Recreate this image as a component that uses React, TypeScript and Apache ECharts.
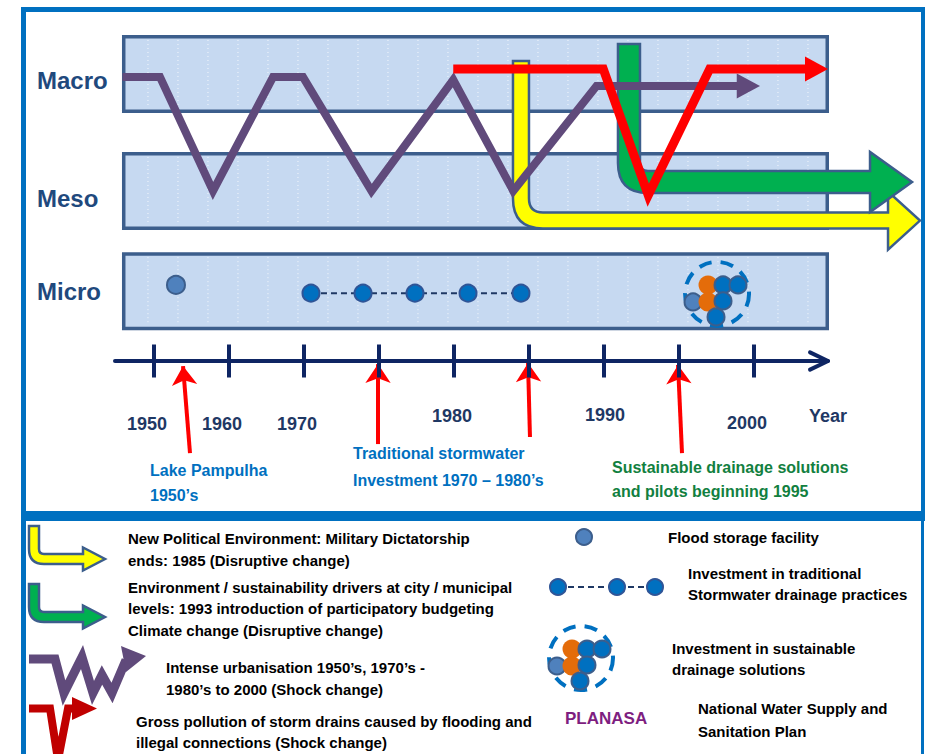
import React, { useEffect, useRef } from "react";
import * as echarts from "echarts";

const FONT = '"Liberation Sans", Arial, Helvetica, sans-serif';

// ---------------- data (timeline position = tick index, level = vertical scale) ----------------
const tickYears = ["1950", "1960", "1970", "1975", "1980", "1985", "1990", "1995", "2000"];
const tickPositions = [0, 1, 2, 3, 4, 5, 6, 7, 8];

const yearLabels = ["1950", "1960", "1970", "1980", "1990", "2000", "Year"];
const yearLabelPos = [
  [-0.093, -16.2], [0.907, -16.2], [1.907, -16.2], [3.973, -14.1], [6.013, -13.8], [7.907, -15.9], [8.987, -14.1],
];

const levelNames = ["Macro", "Meso", "Micro"];
const levelBands = [
  [-0.427, 83.6, 9.0, 63.6],
  [-0.427, 53.6, 9.0, 33.6],
  [-0.427, 27.9, 9.0, 7.9],
];

// Intense urbanisation (shock change)
const urbanisation = [
  [-0.42, 72.8], [0.08, 72.8], [0.787, 43.6], [1.587, 72.8], [1.987, 72.8],
  [2.9, 43.6], [3.99, 72.1], [4.79, 43.6], [5.9, 70.5], [7.8, 70.5],
];
const urbanisationHead = [[7.77, 70.5, 8.08]];

// Gross pollution of storm drains (shock change)
const pollution = [[3.99, 74.9], [5.99, 74.9], [6.59, 42.5], [7.41, 74.9], [8.7, 74.9]];
const pollutionHead = [[8.68, 74.9, 8.987]];

// Disruptive changes: [position, top level, horizontal level, body end, tip]
const disruptiveChanges = [
  [4.893, 76.9, 36.0, 9.787, 10.213], // New political environment 1985
  [6.333, 81.3, 45.9, 9.547, 10.107], // Sustainability drivers 1993
];

const floodStorage = [[0.293, 19.5]];
const traditionalInvestment = [[2.093, 17.4], [2.787, 17.4], [3.48, 17.4], [4.187, 17.4], [4.893, 17.4]];
const sustainableInvestment = [[7.507, 17.2]];

const eventArrows = [
  [[0.48, -23.6], [0.387, -1.3]],
  [[2.987, -21.3], [2.987, -0.8]],
  [[5.013, -19.5], [4.987, -0.5]],
  [[7.04, -23.6], [6.987, -1.0]],
];

const timelineLine = [[-0.52, 0], [8.96, 0]];
const timelineChevron = [
  [[8.747, 2.2], [8.987, 0]],
  [[8.747, -2.2], [8.987, 0]],
];

// ---------------- helpers ----------------
function lArrowPath(cx: number, top: number, cy: number, bx: number, tx: number, a: number, H: number, r: number) {
  return [
    `M${cx - a} ${top}`,
    `L${cx + a} ${top}`,
    `L${cx + a} ${cy - r}`,
    `Q${cx + a} ${cy - a} ${cx + r} ${cy - a}`,
    `L${bx} ${cy - a}`,
    `L${bx} ${cy - H}`,
    `L${tx} ${cy}`,
    `L${bx} ${cy + H}`,
    `L${bx} ${cy + a}`,
    `L${cx + r} ${cy + a}`,
    `Q${cx - a} ${cy + a} ${cx - a} ${cy - r}`,
    "Z",
  ].join(" ");
}

echarts.graphic.registerShape(
  "legendLArrow",
  echarts.graphic.extendPath(lArrowPath(0, 0, 33, 49, 71, 5, 11.5, 10), {})
);

const ARROW_BORDER = "#3C5E8C";
const BLUE_DOT = "#0070C0";
const DOT_BORDER = "#2F5597";

function clusterChildren(cx: number, cy: number) {
  const ch: any[] = [];
  ch.push({
    type: "circle",
    shape: { cx, cy, r: 32 },
    style: { fill: "none", stroke: "#0070C0", lineWidth: 4, lineDash: [13, 9] },
  });
  const light = [[-24, 8]];
  const orange = [[-9, -9], [-9, 8]];
  const blue = [[6, -9], [21, -9], [6, 7], [-1, 23]];
  light.forEach(([dx, dy]) =>
    ch.push({ type: "circle", shape: { cx: cx + dx, cy: cy + dy, r: 8.5 }, style: { fill: "#4F81BD", stroke: ARROW_BORDER, lineWidth: 2 } })
  );
  orange.forEach(([dx, dy]) =>
    ch.push({ type: "circle", shape: { cx: cx + dx, cy: cy + dy, r: 9.5 }, style: { fill: "#E46C0A" } })
  );
  blue.forEach(([dx, dy]) =>
    ch.push({ type: "circle", shape: { cx: cx + dx, cy: cy + dy, r: 8.5 }, style: { fill: BLUE_DOT, stroke: ARROW_BORDER, lineWidth: 2 } })
  );
  return ch;
}

function txt(text: string, x: number, y: number, font: string, fill: string, align = "left") {
  return {
    type: "text",
    x,
    y,
    silent: true,
    style: { text, font, fill, textAlign: align, textVerticalAlign: "middle" },
  };
}

export default function App() {
  const ref = useRef<HTMLDivElement>(null);

  useEffect(() => {
    if (!ref.current) return;
    const chart = echarts.init(ref.current, null, { renderer: "svg" });

    const changeStyles = [
      { fill: "#FFFF00", a: 8, H: 29, r: 22 },
      { fill: "#00B050", a: 11, H: 30, r: 19 },
    ];

    const headSeries = (data: number[][], color: string) => ({
      type: "custom",
      silent: true,
      data,
      renderItem: (params: any, api: any) => {
        const base = api.coord([api.value(0), api.value(1)]);
        const tip = api.coord([api.value(2), api.value(1)]);
        const h = 12.5;
        return {
          type: "polygon",
          shape: { points: [[base[0], base[1] - h], [tip[0], tip[1]], [base[0], base[1] + h]] },
          style: { fill: color },
        };
      },
    });

    const labelFont = `bold 24px ${FONT}`;
    const legendFont = `bold 15px ${FONT}`;
    const noteFont = `bold 16px ${FONT}`;
    const frame = "#0070C0";

    const graphics: any[] = [
      // frame
      { type: "rect", shape: { x: 21, y: 7, width: 904, height: 5 }, style: { fill: frame } },
      { type: "rect", shape: { x: 21, y: 7, width: 5, height: 747 }, style: { fill: frame } },
      { type: "rect", shape: { x: 921, y: 7, width: 4, height: 514 }, style: { fill: frame } },
      { type: "rect", shape: { x: 21, y: 511, width: 904, height: 10 }, style: { fill: frame } },
      { type: "rect", shape: { x: 921, y: 521, width: 3, height: 233 }, style: { fill: frame } },
      // level labels
      txt(levelNames[0], 37, 80, labelFont, "#1F497D"),
      txt(levelNames[1], 37, 198, labelFont, "#1F497D"),
      txt(levelNames[2], 37, 291, labelFont, "#1F497D"),
      txt("PLANASA", 329, 64, `bold 17px ${FONT}`, "#7E1E80"),
      // event notes
      txt("Lake Pampulha", 150, 470, noteFont, "#0070C0"),
      txt("1950\u2019s", 150, 495, noteFont, "#0070C0"),
      txt("Traditional stormwater", 353, 453, noteFont, "#0070C0"),
      txt("Investment 1970 \u2013 1980\u2019s", 353, 480, noteFont, "#0070C0"),
      txt("Sustainable drainage solutions", 612, 467, noteFont, "#12803F"),
      txt("and pilots beginning 1995", 612, 491, noteFont, "#12803F"),
      // legend icons
      { type: "legendLArrow", x: 34, y: 526, style: { fill: "#FFFF00", stroke: ARROW_BORDER, lineWidth: 2.5 } },
      { type: "legendLArrow", x: 34, y: 584, style: { fill: "#00B050", stroke: ARROW_BORDER, lineWidth: 2.5 } },
      {
        type: "polyline",
        shape: { points: [[29, 659], [55, 659], [64, 693], [82, 657], [93, 693], [102, 675], [112, 693], [126, 660]] },
        style: { stroke: "#604A7B", lineWidth: 9, fill: "none", lineJoin: "miter" },
      },
      { type: "polygon", shape: { points: [[121, 646], [146, 656], [126, 672]] }, style: { fill: "#604A7B" } },
      {
        type: "polyline",
        shape: { points: [[29, 708.5], [50, 708.5], [58, 760], [68, 708.5], [76, 708.5]] },
        style: { stroke: "#C00000", lineWidth: 8, fill: "none", lineJoin: "miter" },
      },
      { type: "polygon", shape: { points: [[72, 697], [97, 708.5], [72, 720]] }, style: { fill: "#C00000" } },
      { type: "circle", shape: { cx: 584, cy: 537, r: 8 }, style: { fill: "#4F81BD", stroke: ARROW_BORDER, lineWidth: 2 } },
      { type: "line", shape: { x1: 558, y1: 587, x2: 655, y2: 587 }, style: { stroke: "#1F3864", lineWidth: 2, lineDash: [6, 4] } },
      { type: "circle", shape: { cx: 558, cy: 587, r: 8 }, style: { fill: BLUE_DOT, stroke: DOT_BORDER, lineWidth: 2 } },
      { type: "circle", shape: { cx: 617, cy: 587, r: 8 }, style: { fill: BLUE_DOT, stroke: DOT_BORDER, lineWidth: 2 } },
      { type: "circle", shape: { cx: 655, cy: 587, r: 8 }, style: { fill: BLUE_DOT, stroke: DOT_BORDER, lineWidth: 2 } },
      { type: "group", children: clusterChildren(581, 658) },
      // legend texts
      txt("New Political Environment: Military Dictatorship", 128, 538, legendFont, "#000"),
      txt("ends: 1985 (Disruptive change)", 128, 560, legendFont, "#000"),
      txt("Environment / sustainability drivers at city / municipal", 128, 587, legendFont, "#000"),
      txt("levels: 1993 introduction of participatory budgeting", 128, 608, legendFont, "#000"),
      txt("Climate change (Disruptive change)", 128, 630, legendFont, "#000"),
      txt("Intense urbanisation 1950\u2019s, 1970\u2019s -", 166, 667, legendFont, "#000"),
      txt("1980\u2019s to 2000 (Shock change)", 166, 689, legendFont, "#000"),
      txt("Gross pollution of storm drains caused by flooding and", 136, 721, legendFont, "#000"),
      txt("illegal connections (Shock change)", 136, 742, legendFont, "#000"),
      txt("Flood storage facility", 668, 537, legendFont, "#000"),
      txt("Investment in traditional", 688, 573, legendFont, "#000"),
      txt("Stormwater drainage practices", 688, 594, legendFont, "#000"),
      txt("Investment in sustainable", 672, 648, legendFont, "#000"),
      txt("drainage solutions", 672, 669, legendFont, "#000"),
      txt("PLANASA", 565, 718, `bold 17px ${FONT}`, "#7E1E80"),
      txt("National Water Supply and", 698, 708, legendFont, "#000"),
      txt("Sanitation Plan", 698, 731, legendFont, "#000"),
    ];

    const option: any = {
      animation: false,
      backgroundColor: "#ffffff",
      grid: { left: 109, width: 720, top: 33.4, height: 483.6 },
      xAxis: { type: "value", min: -0.6, max: 9, show: false },
      yAxis: { type: "value", min: -40, max: 84, show: false },
      graphic: { elements: graphics },
      series: [
        {
          name: "levels",
          type: "custom",
          silent: true,
          data: levelBands,
          renderItem: (params: any, api: any) => {
            const p0 = api.coord([api.value(0), api.value(1)]);
            const p1 = api.coord([api.value(2), api.value(3)]);
            const lw = 3.5;
            const children: any[] = [
              {
                type: "rect",
                shape: { x: p0[0] + lw / 2, y: p0[1] + lw / 2, width: p1[0] - p0[0] - lw, height: p1[1] - p0[1] - lw },
                style: { fill: "#C6D9F1", stroke: "#3C5E8C", lineWidth: lw },
              },
            ];
            for (let x = p0[0] + 26; x < p1[0] - 8; x += 30) {
              children.push({
                type: "line",
                shape: { x1: x, y1: p0[1] + 5, x2: x, y2: p1[1] - 5 },
                style: { stroke: "rgba(255,255,255,0.85)", lineWidth: 1, lineDash: [1, 3] },
              });
            }
            return { type: "group", children };
          },
        },
        {
          name: "disruptive",
          type: "custom",
          silent: true,
          data: disruptiveChanges,
          renderItem: (params: any, api: any) => {
            const s = changeStyles[params.dataIndex];
            const top = api.coord([api.value(0), api.value(1)]);
            const bend = api.coord([api.value(0), api.value(2)]);
            const end = api.coord([api.value(3), api.value(2)]);
            const tip = api.coord([api.value(4), api.value(2)]);
            return {
              type: "path",
              shape: { pathData: lArrowPath(top[0], top[1], bend[1], end[0], tip[0], s.a, s.H, s.r) },
              style: { fill: s.fill, stroke: ARROW_BORDER, lineWidth: 2.5 },
            };
          },
        },
        {
          name: "urbanisation",
          type: "line",
          silent: true,
          clip: false,
          data: urbanisation,
          symbol: "none",
          lineStyle: { color: "#604A7B", width: 8, join: "miter", miterLimit: 10, cap: "butt" },
        },
        headSeries(urbanisationHead, "#604A7B"),
        {
          name: "pollution",
          type: "line",
          silent: true,
          clip: false,
          data: pollution,
          symbol: "none",
          lineStyle: { color: "#FF0000", width: 9, join: "miter", miterLimit: 10, cap: "butt" },
        },
        headSeries(pollutionHead, "#FF0000"),
        {
          name: "flood storage",
          type: "scatter",
          silent: true,
          data: floodStorage,
          symbol: "circle",
          symbolSize: 18,
          itemStyle: { color: "#4F81BD", borderColor: ARROW_BORDER, borderWidth: 2, opacity: 1 },
        },
        {
          name: "traditional",
          type: "line",
          silent: true,
          data: traditionalInvestment,
          symbol: "circle",
          symbolSize: 17,
          showSymbol: true,
          itemStyle: { color: BLUE_DOT, borderColor: DOT_BORDER, borderWidth: 2 },
          lineStyle: { color: "#1F3864", width: 2, type: [6, 4] },
        },
        {
          name: "sustainable",
          type: "custom",
          silent: true,
          data: sustainableInvestment,
          renderItem: (params: any, api: any) => {
            const c = api.coord([api.value(0), api.value(1)]);
            return { type: "group", children: clusterChildren(c[0], c[1]) };
          },
        },
        {
          name: "timeline",
          type: "lines",
          coordinateSystem: "cartesian2d",
          silent: true,
          data: [{ coords: timelineLine }, ...timelineChevron.map((c) => ({ coords: c }))],
          symbol: "none",
          lineStyle: { color: "#0E2563", width: 4, opacity: 1, cap: "round" },
        },
        {
          name: "ticks",
          type: "scatter",
          silent: true,
          data: tickPositions.map((p, i) => ({ name: tickYears[i], value: [p, 0] })),
          symbol: "rect",
          symbolSize: [4, 33],
          itemStyle: { color: "#0E2563", opacity: 1 },
        },
        {
          name: "tick labels",
          type: "scatter",
          silent: true,
          data: yearLabelPos,
          symbolSize: 1,
          itemStyle: { color: "rgba(0,0,0,0)", opacity: 1 },
          label: {
            show: true,
            position: "inside",
            formatter: (p: any) => yearLabels[p.dataIndex],
            color: "#1F3864",
            opacity: 1,
            fontSize: 18,
            fontWeight: "bold",
            fontFamily: FONT,
            align: "center",
            verticalAlign: "middle",
          },
        },
        {
          name: "events",
          type: "lines",
          coordinateSystem: "cartesian2d",
          silent: true,
          data: eventArrows.map((c) => ({ coords: c })),
          symbol: ["none", "arrow"],
          symbolSize: 19,
          lineStyle: { color: "#FF0000", width: 4, opacity: 1 },
        },
      ],
    };

    chart.setOption(option);
    return () => chart.dispose();
  }, []);

  return (
    <div
      ref={ref}
      style={{ position: "absolute", left: 0, top: 0, width: 925, height: 754, background: "#fff" }}
    />
  );
}
